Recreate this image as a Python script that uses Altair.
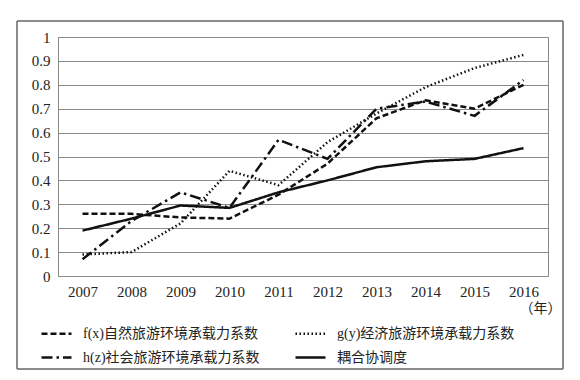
import altair as alt
import pandas as pd

years = [2007, 2008, 2009, 2010, 2011, 2012, 2013, 2014, 2015, 2016]
f_x = [0.26, 0.26, 0.245, 0.24, 0.34, 0.47, 0.66, 0.735, 0.70, 0.80]
g_y = [0.09, 0.10, 0.22, 0.44, 0.38, 0.56, 0.68, 0.79, 0.87, 0.925]
h_z = [0.07, 0.23, 0.35, 0.285, 0.57, 0.49, 0.70, 0.73, 0.67, 0.82]
coupling = [0.19, 0.24, 0.295, 0.285, 0.35, 0.40, 0.455, 0.48, 0.49, 0.535]

names = ["f(x)自然旅游环境承载力系数", "g(y)经济旅游环境承载力系数",
         "h(z)社会旅游环境承载力系数", "耦合协调度"]
y_ticks = [0, 0.1, 0.2, 0.3, 0.4, 0.5, 0.6, 0.7, 0.8, 0.9, 1]

rows = []
for name, vals in zip(names, [f_x, g_y, h_z, coupling]):
    for yr, v in zip(years, vals):
        rows.append({"year": str(yr), "value": v, "series": name})
df = pd.DataFrame(rows)

# legend is laid out column-major: row1 -> f, g ; row2 -> h, coupling
legend_order = [names[0], names[2], names[1], names[3]]
dash_map = {names[0]: [6, 3], names[1]: [1.5, 2.5], names[2]: [11, 4, 2.5, 4], names[3]: [1, 0]}
width_map = {names[0]: 2.5, names[1]: 2, names[2]: 2.5, names[3]: 3.5}

FONT = "Liberation Serif, Noto Sans CJK SC"

lines = alt.Chart(df).mark_line(strokeCap="butt", strokeJoin="round").encode(
    x=alt.X("year:O", sort=[str(y) for y in years],
            scale=alt.Scale(type="point", padding=0.5),
            axis=alt.Axis(title="（年）", labelAngle=0, ticks=False, domain=False,
                          labelFont=FONT, labelFontSize=15, labelPadding=8, labelColor="#222",
                          titleFont=FONT, titleFontSize=14, titleFontWeight="normal", titleColor="#222",
                          titleAnchor="end", titleAlign="right", titleX=503, titleY=32,
                          titleBaseline="middle", grid=False)),
    y=alt.Y("value:Q", scale=alt.Scale(domain=[0, 1], nice=False),
            axis=alt.Axis(title=None, values=y_ticks, format="~g", ticks=False, domain=False,
                          labelFont=FONT, labelFontSize=15, labelPadding=8, labelColor="#222",
                          gridColor="#8a8a8a", gridWidth=1)),
    color=alt.Color("series:N", sort=legend_order,
                    scale=alt.Scale(domain=legend_order, range=["#111"] * 4),
                    legend=alt.Legend(title=None, orient="none", legendX=-18, legendY=280,
                                      columns=2, symbolType="stroke", symbolSize=900,
                                      labelFont=FONT, labelFontSize=14, labelColor="#222",
                                      labelLimit=300, labelOffset=10, columnPadding=30,
                                      rowPadding=0, symbolStrokeColor="#111")),
    strokeDash=alt.StrokeDash("series:N", sort=legend_order,
                              scale=alt.Scale(domain=legend_order,
                                              range=[dash_map[n] for n in legend_order]),
                              legend=None),
    strokeWidth=alt.StrokeWidth("series:N", sort=legend_order,
                                scale=alt.Scale(domain=legend_order,
                                                range=[width_map[n] for n in legend_order]),
                                legend=None),
)

one = pd.DataFrame({"a": [1]})
FL, FR, FT, FB = -41, 505, -16, 332


def frame_rule(**enc):
    return alt.Chart(one).mark_rule(color="#666666", strokeWidth=1.5, clip=False).encode(**enc)


frame = [
    frame_rule(x=alt.value(FL), x2=alt.value(FR), y=alt.value(FT)),
    frame_rule(x=alt.value(FL), x2=alt.value(FR), y=alt.value(FB)),
    frame_rule(x=alt.value(FL), y=alt.value(FT), y2=alt.value(FB)),
    frame_rule(x=alt.value(FR), y=alt.value(FT), y2=alt.value(FB)),
]

chart = alt.layer(lines, *frame).properties(
    width=490, height=239,
    padding={"left": 50, "top": 29, "right": 24, "bottom": 100},
    autosize=alt.AutoSizeParams(type="none"),
).configure(font=FONT).configure_view(stroke="#8a8a8a", strokeWidth=1)

chart.save("out.html", embed_options={"renderer": "svg", "actions": False})
